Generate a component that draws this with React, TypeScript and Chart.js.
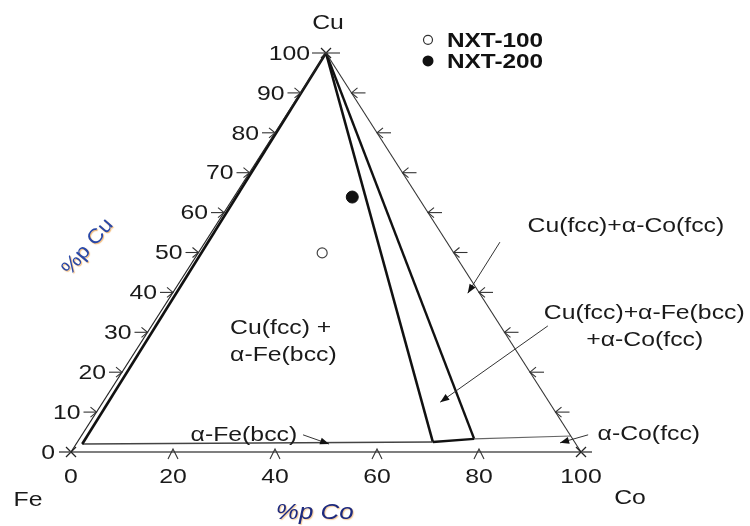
import React, { useEffect, useRef } from "react";
import { Chart, registerables } from "chart.js";

Chart.register(...registerables);

// ---------- data (ternary compositions, wt.% Co and wt.% Cu; Fe = balance) ----------
const vertexNames = ["Fe", "Cu", "Co"];
const bottomTicks = [0, 20, 40, 60, 80, 100];
const leftTicks = [0, 10, 20, 30, 40, 50, 60, 70, 80, 90, 100];
const rightTicks = [10, 20, 30, 40, 50, 60, 70, 80, 90];

const sampleNames = ["NXT-100", "NXT-200"];
const sampleCo = [24.3, 23.2];
const sampleCu = [49.9, 63.9];

// triangle edges
const edgeLeftCo = [0, 0];
const edgeLeftCu = [0, 100];
const edgeRightCo = [0, 100];
const edgeRightCu = [100, 0];
const edgeBottomCo = [0, 100];
const edgeBottomCu = [0, 0];

// phase boundaries
const bccBoundaryCo = [0, 1.2];
const bccBoundaryCu = [100, 2.0];
const feSolvusCo = [1.2, 69.7];
const feSolvusCu = [2.0, 2.5];
const threePhaseBaseCo = [69.7, 77.4];
const threePhaseBaseCu = [2.5, 3.3];
const coSolvusCo = [77.4, 96.0];
const coSolvusCu = [3.3, 4.0];
const tieLeftCo = [0, 69.7];
const tieLeftCu = [100, 2.5];
const tieRightCo = [0, 77.4];
const tieRightCu = [100, 3.3];

const regionTexts = [
  "Cu(fcc)+α-Co(fcc)",
  "Cu(fcc)+α-Fe(bcc)",
  "+α-Co(fcc)",
  "α-Co(fcc)",
  "Cu(fcc) +",
  "α-Fe(bcc)",
  "α-Fe(bcc)",
];
const axisTitles = ["%p Cu", "%p Co"];

// ---------- helpers ----------
const toXY = (co: number[], cu: number[]) =>
  co.map((c, i) => ({ x: c + cu[i] / 2, y: cu[i] }));

const FONT = '"Liberation Sans", Arial, Helvetica, sans-serif';

function drawText(
  ctx: CanvasRenderingContext2D,
  text: string,
  x: number,
  y: number,
  o: { size?: number; align?: CanvasTextAlign; color?: string; weight?: string; italic?: boolean; sx?: number; rot?: number; shadow?: string } = {}
) {
  ctx.save();
  ctx.translate(x, y);
  if (o.rot) ctx.rotate(o.rot);
  ctx.scale(o.sx ?? 1.18, 1);
  ctx.font = `${o.italic ? "italic " : ""}${o.weight ?? "normal"} ${o.size ?? 21}px ${FONT}`;
  ctx.textAlign = o.align ?? "center";
  ctx.textBaseline = "middle";
  if (o.shadow) {
    ctx.shadowColor = o.shadow;
    ctx.shadowOffsetX = 1;
    ctx.shadowOffsetY = 1;
    ctx.shadowBlur = 1;
  }
  ctx.fillStyle = o.color ?? "#1a1a1a";
  ctx.fillText(text, 0, 0);
  ctx.restore();
}

function seg(ctx: CanvasRenderingContext2D, pts: number[][], color = "#222", w = 1.2) {
  ctx.save();
  ctx.strokeStyle = color;
  ctx.lineWidth = w;
  ctx.beginPath();
  ctx.moveTo(pts[0][0], pts[0][1]);
  for (let i = 1; i < pts.length; i++) ctx.lineTo(pts[i][0], pts[i][1]);
  ctx.stroke();
  ctx.restore();
}

function arrow(ctx: CanvasRenderingContext2D, x1: number, y1: number, x2: number, y2: number) {
  seg(ctx, [[x1, y1], [x2, y2]], "#333", 1);
  const a = Math.atan2(y2 - y1, x2 - x1);
  const L = 9, W = 3.5;
  ctx.save();
  ctx.fillStyle = "#111";
  ctx.beginPath();
  ctx.moveTo(x2, y2);
  ctx.lineTo(x2 - L * Math.cos(a) + W * Math.sin(a), y2 - L * Math.sin(a) - W * Math.cos(a));
  ctx.lineTo(x2 - L * Math.cos(a) - W * Math.sin(a), y2 - L * Math.sin(a) + W * Math.cos(a));
  ctx.closePath();
  ctx.fill();
  ctx.restore();
}

const decorPlugin = {
  id: "ternaryDecor",
  afterDatasetsDraw(chart: any) {
    const ctx: CanvasRenderingContext2D = chart.ctx;
    const xs = chart.scales.x;
    const ys = chart.scales.y;
    const P = (X: number, Y: number) => [xs.getPixelForValue(X), ys.getPixelForValue(Y)];
    const T = (co: number, cu: number) => P(co + cu / 2, cu);

    const [ax, ay] = T(0, 100);
    const [fx, fy] = T(0, 0);
    const [cx, cy] = T(100, 0);

    // vertex X marks
    const xMark = (x: number, y: number) => {
      seg(ctx, [[x - 5, y - 5], [x + 5, y + 5]], "#222", 1.2);
      seg(ctx, [[x - 5, y + 5], [x + 5, y - 5]], "#222", 1.2);
    };
    xMark(ax, ay);
    seg(ctx, [[ax - 14, ay], [ax + 14, ay]], "#444", 1.2);
    xMark(fx, fy);
    seg(ctx, [[fx - 12, fy], [fx, fy]], "#444", 1.4);
    xMark(cx, cy);
    seg(ctx, [[cx, cy], [cx + 11, cy]], "#444", 1.4);

    // left-edge (Cu) ticks and labels
    leftTicks.forEach((v) => {
      const [x, y] = T(0, v);
      if (v > 0 && v < 100) {
        seg(ctx, [[x - 13, y], [x, y]], "#333", 1.1);
        seg(ctx, [[x - 6, y - 5], [x, y], [x - 6, y + 5]], "#333", 1.1);
      }
      drawText(ctx, String(v), x - 16, y + 1, { align: "right" });
    });

    // right-edge ticks
    rightTicks.forEach((v) => {
      const [x, y] = T(100 - v, v);
      seg(ctx, [[x, y], [x + 14, y]], "#333", 1.1);
      seg(ctx, [[x + 6, y - 5], [x, y], [x + 6, y + 5]], "#333", 1.1);
    });

    // bottom (Co) ticks and labels
    bottomTicks.forEach((v) => {
      const [x, y] = T(v, 0);
      if (v > 0 && v < 100) seg(ctx, [[x - 5, y + 7], [x, y - 3], [x + 5, y + 7]], "#333", 1.1);
      drawText(ctx, String(v), x, y + 25);
    });

    // vertex names
    drawText(ctx, vertexNames[1], ax + 2, ay - 30);
    drawText(ctx, vertexNames[0], fx - 43, fy + 48);
    drawText(ctx, vertexNames[2], cx + 49, cy + 46);

    // axis titles
    const [tcx, tcy] = P(3.3, 51.4);
    drawText(ctx, axisTitles[0], tcx, tcy, {
      size: 20, sx: 1.12, color: "#2747a8", rot: -0.86, shadow: "rgba(235,150,50,0.7)",
    });
    const [tox, toy] = P(47.8, -15.3);
    drawText(ctx, axisTitles[1], tox, toy, {
      size: 22, sx: 1.18, color: "#1d2a7e", italic: true, shadow: "rgba(235,150,50,0.5)",
    });

    // region labels
    const place: [number, number, CanvasTextAlign][] = [
      [108.8, 56.6, "center"],
      [112.4, 34.8, "center"],
      [112.5, 28.1, "center"],
      [113.3, 4.5, "center"],
      [31.2, 31.1, "left"],
      [31.2, 24.3, "left"],
      [33.9, 4.3, "center"],
    ];
    regionTexts.forEach((t, i) => {
      const [x, y] = P(place[i][0], place[i][1]);
      drawText(ctx, t, x, y, { align: place[i][2] });
    });

    // annotation arrows
    const arrows = [
      [84.1, 52.6, 77.8, 39.8],
      [93.5, 31.6, 72.4, 12.5],
      [101.4, 4.3, 95.9, 2.3],
      [45.5, 4.3, 50.6, 2.0],
    ];
    arrows.forEach((a) => {
      const [x1, y1] = P(a[0], a[1]);
      const [x2, y2] = P(a[2], a[3]);
      arrow(ctx, x1, y1, x2, y2);
    });

    // legend
    const [lx, l1y] = P(70, 103.3);
    const [, l2y] = P(70, 98.0);
    ctx.save();
    ctx.beginPath();
    ctx.arc(lx, l1y, 4.5, 0, Math.PI * 2);
    ctx.fillStyle = "#fff";
    ctx.fill();
    ctx.strokeStyle = "#333";
    ctx.lineWidth = 1.2;
    ctx.stroke();
    ctx.beginPath();
    ctx.arc(lx, l2y, 5.5, 0, Math.PI * 2);
    ctx.fillStyle = "#111";
    ctx.fill();
    ctx.restore();
    drawText(ctx, sampleNames[0], lx + 19, l1y + 1, { align: "left", weight: "bold", color: "#111", sx: 1.16 });
    drawText(ctx, sampleNames[1], lx + 19, l2y + 1, { align: "left", weight: "bold", color: "#111", sx: 1.16 });
  },
};

const lineDs = (label: string, co: number[], cu: number[], color: string, w: number) => ({
  label,
  data: toXY(co, cu),
  showLine: true,
  borderColor: color,
  borderWidth: w,
  pointRadius: 0,
  fill: false,
  clip: false as any,
  order: 2,
});

export default function App() {
  const ref = useRef<HTMLCanvasElement | null>(null);

  useEffect(() => {
    if (!ref.current) return;
    const chart = new Chart(ref.current, {
      type: "scatter",
      data: {
        datasets: [
          lineDs("edge-left", edgeLeftCo, edgeLeftCu, "#222", 1.2),
          lineDs("edge-right", edgeRightCo, edgeRightCu, "#333", 1.1),
          lineDs("edge-bottom", edgeBottomCo, edgeBottomCu, "#555", 1.6),
          lineDs("bcc-boundary", bccBoundaryCo, bccBoundaryCu, "#111", 2.6),
          lineDs("fe-solvus", feSolvusCo, feSolvusCu, "#444", 1.4),
          lineDs("three-phase-base", threePhaseBaseCo, threePhaseBaseCu, "#111", 2.4),
          lineDs("co-solvus", coSolvusCo, coSolvusCu, "#666", 1.1),
          lineDs("tie-left", tieLeftCo, tieLeftCu, "#111", 2.6),
          lineDs("tie-right", tieRightCo, tieRightCu, "#111", 2.4),
          {
            label: sampleNames[0],
            data: toXY([sampleCo[0]], [sampleCu[0]]),
            pointRadius: 5,
            pointBackgroundColor: "#fff",
            pointBorderColor: "#444",
            pointBorderWidth: 1.2,
            showLine: false,
            clip: false as any,
            order: 1,
          },
          {
            label: sampleNames[1],
            data: toXY([sampleCo[1]], [sampleCu[1]]),
            pointRadius: 6,
            pointBackgroundColor: "#111",
            pointBorderColor: "#111",
            pointBorderWidth: 1,
            showLine: false,
            clip: false as any,
            order: 1,
          },
        ],
      },
      options: {
        animation: false,
        responsive: false,
        events: [],
        layout: { padding: { left: 71, right: 169, top: 53, bottom: 74 } },
        scales: {
          x: { type: "linear", min: 0, max: 100, display: false },
          y: { type: "linear", min: 0, max: 100, display: false },
        },
        plugins: {
          legend: { display: false },
          tooltip: { enabled: false },
        },
      },
      plugins: [decorPlugin],
    });
    return () => chart.destroy();
  }, []);

  return (
    <div style={{ position: "absolute", left: 0, top: 0, width: 750, height: 526, background: "#fff" }}>
      <canvas ref={ref} width={750} height={526} style={{ display: "block" }} />
    </div>
  );
}
